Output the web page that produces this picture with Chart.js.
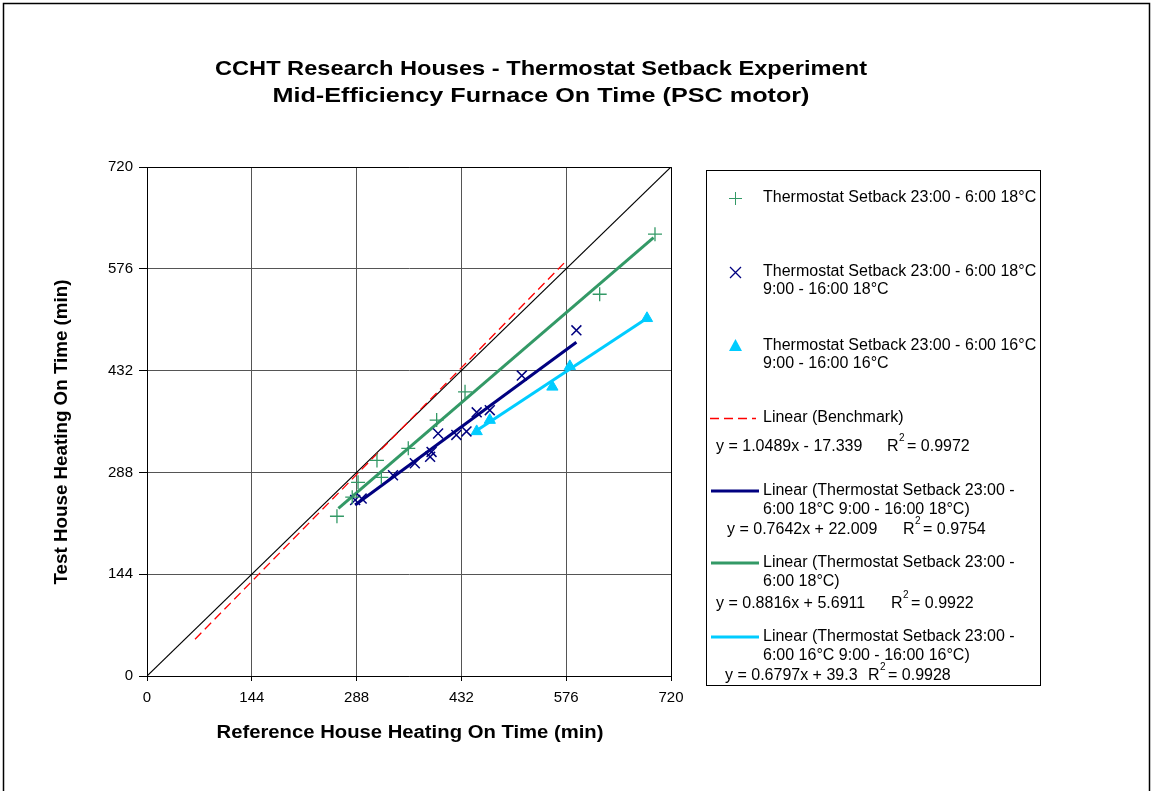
<!DOCTYPE html>
<html>
<head>
<meta charset="utf-8">
<script src="https://cdn.jsdelivr.net/npm/chart.js@4"></script>
<style>
html,body{margin:0;padding:0;background:#fff;}
canvas{display:block;}
</style>
</head>
<body>
<canvas id="c" width="1153" height="791"></canvas>
<script>
// ---- data ----
const axisTicks = [0, 144, 288, 432, 576, 720];

const greenX = [261, 282, 290, 316, 322, 359, 398, 437, 622, 698];
const greenY = [226, 253, 274, 305, 281, 322, 362, 402, 540, 625];

const navyX = [286, 295, 338, 368, 389, 391, 400, 425, 439, 453, 471, 515, 590];
const navyY = [249, 251, 284, 301, 310, 317, 343, 341, 346, 373, 376, 425, 489];

const cyanX = [453, 471, 557, 581, 687];
const cyanY = [346, 362, 409, 438, 506];

const identityX = [0, 720];
const identityY = [0, 720];
const benchX = [66, 573];
const benchY = [52, 584];
const navyTrendX = [286, 590];
const navyTrendY = [242, 472];
const greenTrendX = [263, 696];
const greenTrendY = [237, 620];
const cyanTrendX = [451, 687];
const cyanTrendY = [346, 506];

const titleLines = ["CCHT Research Houses - Thermostat Setback Experiment", "Mid-Efficiency Furnace On Time (PSC motor)"];
const xTitle = "Reference House Heating On Time (min)";
const yTitle = "Test House Heating On Time (min)";

const GREEN = '#339966', NAVY = '#000080', CYAN = '#00CCFF', RED = '#FF0000';
const FONT = '"Liberation Sans", Arial, sans-serif';

function pts(xs, ys) { return xs.map((x, i) => ({x: x, y: ys[i]})); }

const lineDs = (xs, ys, color, width, dash, order) => ({
  data: pts(xs, ys), showLine: true, pointRadius: 0, borderColor: color,
  borderWidth: width, borderDash: dash || [], fill: false, order: order
});

// draw text scaled horizontally to span a given width
function fitText(ctx, text, x, y, width, align) {
  const w = ctx.measureText(text).width;
  const k = width / w;
  ctx.save();
  ctx.textAlign = 'left';
  const left = align === 'center' ? x - width / 2 : x;
  ctx.translate(left, y);
  ctx.scale(k, 1);
  ctx.fillText(text, 0, 0);
  ctx.restore();
}

const decor = {
  id: 'decor',
  afterDraw(chart) {
    const ctx = chart.ctx;
    const a = chart.chartArea;
    ctx.save();
    // outer frame
    ctx.strokeStyle = '#000'; ctx.lineWidth = 1.5;
    ctx.strokeRect(3.5, 3.5, 1146, 800);
    // plot frame top/right
    ctx.lineWidth = 1;
    ctx.beginPath();
    ctx.moveTo(a.left, a.top + 0.5); ctx.lineTo(a.right + 0.5, a.top + 0.5);
    ctx.lineTo(a.right + 0.5, a.bottom);
    ctx.stroke();
    // title
    ctx.fillStyle = '#000';
    ctx.textBaseline = 'middle';
    ctx.font = 'bold 21px ' + FONT;
    fitText(ctx, titleLines[0], 541, 69, 652, 'center');
    fitText(ctx, titleLines[1], 541, 96, 537, 'center');
    // axis titles
    ctx.font = 'bold 18px ' + FONT;
    fitText(ctx, xTitle, 410, 733, 387, 'center');
    ctx.save();
    ctx.translate(62, 432); ctx.rotate(-Math.PI / 2);
    fitText(ctx, yTitle, 0, 0, 305, 'center');
    ctx.restore();
    // legend box
    ctx.strokeStyle = '#000'; ctx.lineWidth = 1;
    ctx.strokeRect(706.5, 170.5, 334, 515);
    ctx.font = '16px ' + FONT;
    ctx.textAlign = 'left';
    const tx = 763;
    // marker: plus
    ctx.strokeStyle = GREEN; ctx.lineWidth = 1;
    ctx.beginPath(); ctx.moveTo(729, 198.5); ctx.lineTo(742, 198.5);
    ctx.moveTo(735.5, 192); ctx.lineTo(735.5, 205); ctx.stroke();
    ctx.fillStyle = '#000';
    ctx.fillText('Thermostat Setback 23:00 - 6:00 18°C', tx, 198);
    // marker: x
    ctx.strokeStyle = NAVY; ctx.lineWidth = 1.3;
    ctx.beginPath(); ctx.moveTo(730, 267); ctx.lineTo(741, 278);
    ctx.moveTo(741, 267); ctx.lineTo(730, 278); ctx.stroke();
    ctx.fillText('Thermostat Setback 23:00 - 6:00 18°C', tx, 272);
    ctx.fillText('9:00 - 16:00 18°C', tx, 290);
    // marker: triangle
    ctx.fillStyle = CYAN;
    ctx.beginPath(); ctx.moveTo(735.5, 339); ctx.lineTo(742, 351); ctx.lineTo(729, 351); ctx.closePath(); ctx.fill();
    ctx.fillStyle = '#000';
    ctx.fillText('Thermostat Setback 23:00 - 6:00 16°C', tx, 346);
    ctx.fillText('9:00 - 16:00 16°C', tx, 364);
    // benchmark
    ctx.strokeStyle = RED; ctx.lineWidth = 1.3; ctx.setLineDash([9, 5]);
    ctx.beginPath(); ctx.moveTo(710, 418.5); ctx.lineTo(756, 418.5); ctx.stroke();
    ctx.setLineDash([]);
    ctx.fillText('Linear (Benchmark)', tx, 418);
    function eq(x, y, left, rx, r2) {
      ctx.fillText(left, x, y);
      ctx.fillText('R', rx, y);
      const wr = ctx.measureText('R').width;
      ctx.font = '10px ' + FONT;
      ctx.fillText('2', rx + wr + 0.5, y - 9);
      ctx.font = '16px ' + FONT;
      ctx.fillText(' = ' + r2, rx + wr + 4, y);
    }
    eq(716, 447, 'y = 1.0489x - 17.339', 887, '0.9972');
    function legLine(color, y) {
      ctx.strokeStyle = color; ctx.lineWidth = 3;
      ctx.beginPath(); ctx.moveTo(711, y); ctx.lineTo(759, y); ctx.stroke();
    }
    legLine(NAVY, 491);
    ctx.fillText('Linear (Thermostat Setback 23:00 -', tx, 491);
    ctx.fillText('6:00 18°C 9:00 - 16:00 18°C)', tx, 510);
    eq(727, 530, 'y = 0.7642x + 22.009', 903, '0.9754');
    legLine(GREEN, 563);
    ctx.fillText('Linear (Thermostat Setback 23:00 -', tx, 563);
    ctx.fillText('6:00 18°C)', tx, 582);
    eq(716, 604, 'y = 0.8816x + 5.6911', 891, '0.9922');
    legLine(CYAN, 637);
    ctx.fillText('Linear (Thermostat Setback 23:00 -', tx, 637);
    ctx.fillText('6:00 16°C 9:00 - 16:00 16°C)', tx, 656);
    eq(725, 676, 'y = 0.6797x + 39.3', 868, '0.9928');
    ctx.restore();
  }
};

new Chart(document.getElementById('c'), {
  type: 'scatter',
  data: {
    datasets: [
      {data: pts(greenX, greenY), pointStyle: 'cross', pointRadius: 7, borderColor: GREEN, borderWidth: 1.3, backgroundColor: GREEN, order: 1},
      {data: pts(navyX, navyY), pointStyle: 'crossRot', pointRadius: 7, borderColor: NAVY, borderWidth: 1.5, backgroundColor: NAVY, order: 1},
      {data: pts(cyanX, cyanY), pointStyle: 'triangle', pointRadius: 6.5, borderColor: CYAN, borderWidth: 1, backgroundColor: CYAN, order: 1},
      lineDs(identityX, identityY, '#000', 1.2, null, 3),
      lineDs(benchX, benchY, RED, 1.3, [9, 5], 2),
      lineDs(navyTrendX, navyTrendY, NAVY, 3, null, 2),
      lineDs(greenTrendX, greenTrendY, GREEN, 3, null, 2),
      lineDs(cyanTrendX, cyanTrendY, CYAN, 3, null, 2)
    ]
  },
  options: {
    responsive: false,
    animation: false,
    events: [],
    layout: {padding: {left: 0, top: 167, right: 482, bottom: 0}},
    plugins: {legend: {display: false}, tooltip: {enabled: false}, title: {display: false}},
    scales: {
      x: {
        type: 'linear', min: 0, max: 720,
        afterBuildTicks: s => { s.ticks = axisTicks.map(v => ({value: v})); },
        afterFit: s => { s.height = 115; },
        grid: {color: '#555', lineWidth: 1, tickLength: 5, tickColor: '#000', drawOnChartArea: true},
        border: {color: '#000', width: 1},
        ticks: {color: '#000', font: {family: FONT, size: 15}, padding: 8, maxRotation: 0}
      },
      y: {
        type: 'linear', min: 0, max: 720,
        afterBuildTicks: s => { s.ticks = axisTicks.map(v => ({value: v})); },
        afterFit: s => { s.width = 147; },
        grid: {color: '#555', lineWidth: 1, tickLength: 8, tickColor: '#000'},
        border: {color: '#000', width: 1},
        ticks: {color: '#000', font: {family: FONT, size: 15}, padding: 6}
      }
    }
  },
  plugins: [decor]
});
</script>
</body>
</html>
